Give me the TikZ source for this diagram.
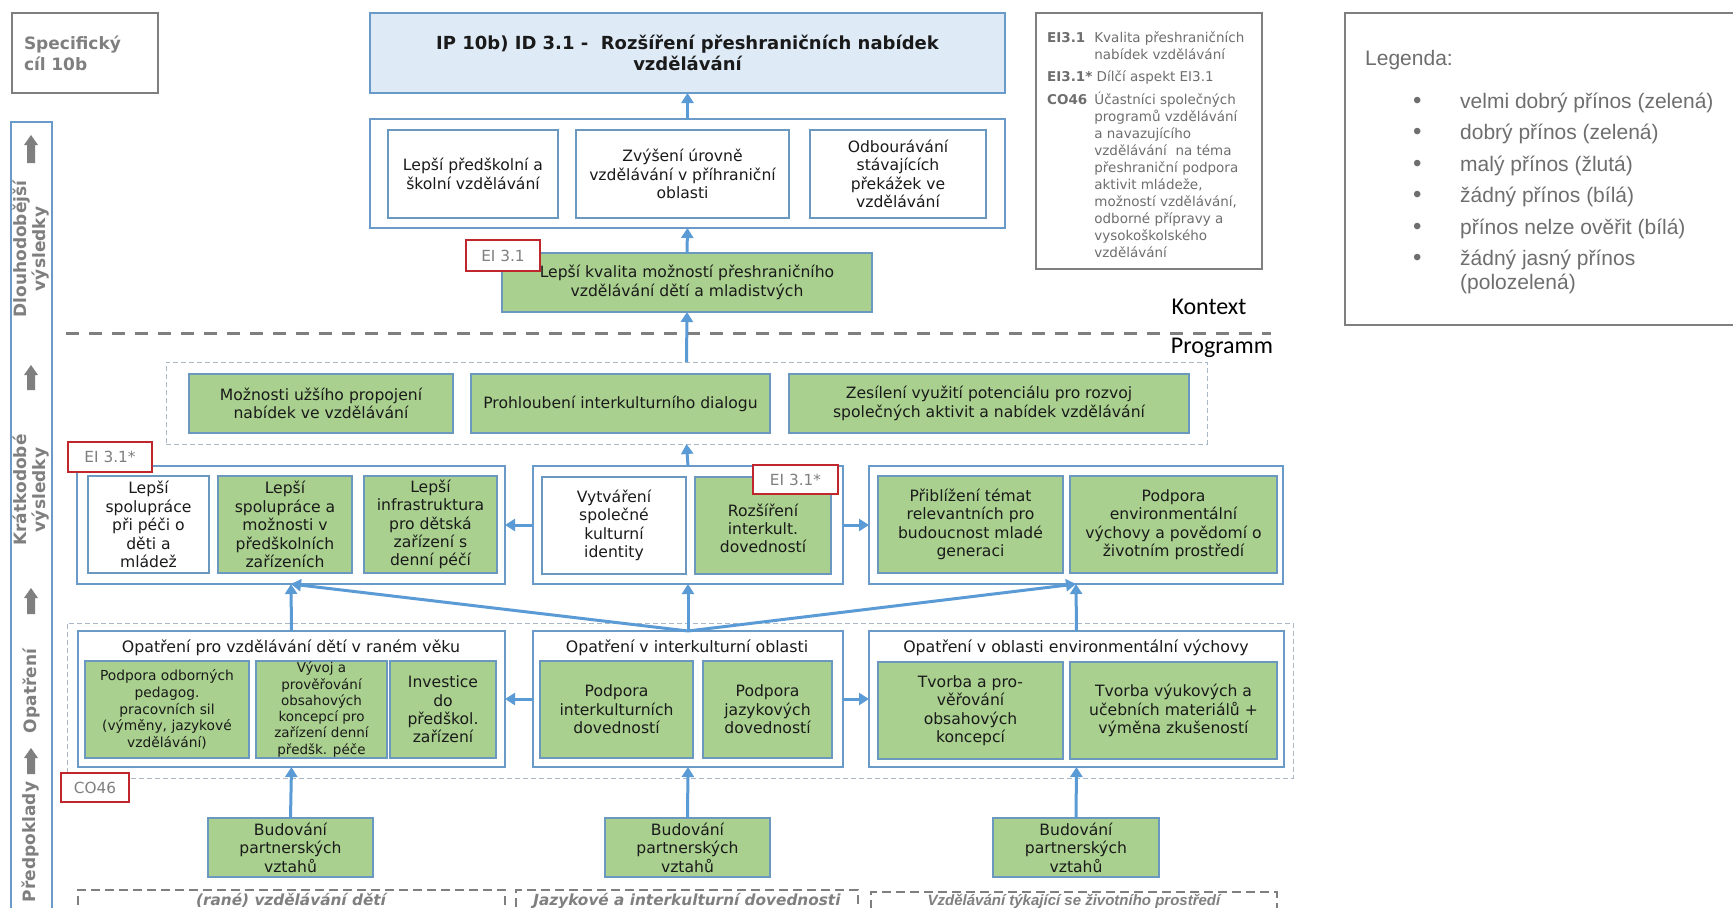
\documentclass[tikz,border=0pt]{standalone}
\usepackage{fontspec}
\setmainfont{DejaVu Sans}
\newfontfamily\arialf{Liberation Sans}
\newfontfamily\calf{Carlito}
\usetikzlibrary{arrows.meta}
\definecolor{fr}{HTML}{6A9AC8}
\definecolor{gf}{HTML}{A9D08E}
\definecolor{gb}{HTML}{6B98BF}
\definecolor{ab}{HTML}{5B9BD5}
\definecolor{lb}{HTML}{DEEBF7}
\definecolor{rd}{HTML}{C0272D}
\definecolor{gt}{HTML}{7F7F7F}
\definecolor{dl}{HTML}{A9B6C6}
\definecolor{tx}{HTML}{1A1A1A}
\definecolor{lg}{HTML}{6E6E6E}
\newcommand\fsz[2]{\fontsize{#1}{#2}\selectfont}
\newcommand\bx[7]{\node[#1,minimum width={(#4-#2)*1pt},minimum height={(#5-#3)*1pt}] (#6) at ({(#2+#4)/2},{(#3+#5)/2}) {#7};}
\newcommand\garrow[3]{\fill[gt] ({#1-4},{#3}) -- ({#1-4},{#2+10}) -- ({#1-7},{#2+10}) -- ({#1},{#2}) -- ({#1+7},{#2+10}) -- ({#1+4},{#2+10}) -- ({#1+4},{#3}) -- cycle;}
\tikzset{
 frame/.style={draw=fr, line width=1.8pt, fill=white, inner sep=0pt, outer sep=0pt},
 gbox/.style={draw=gb, line width=1.6pt, fill=gf, inner sep=0pt, outer sep=0pt, align=center, font=\fsz{15.6}{18.4}, text=tx},
 wbox/.style={gbox, fill=white},
 sbox/.style={gbox, font=\fsz{13.8}{16.6}},
 ipbox/.style={draw=fr, line width=1.8pt, fill=lb, inner sep=0pt, outer sep=0pt, align=center, font=\fsz{18}{21}\bfseries, text=tx},
 greybox/.style={draw=gt, line width=1.8pt, fill=white, inner sep=0pt, outer sep=0pt},
 redbox/.style={draw=rd, line width=1.8pt, fill=white, inner sep=0pt, outer sep=0pt, font=\fsz{15.3}{18}, text=gt},
 ldash/.style={draw=dl, line width=1pt, dash pattern=on 5pt off 3pt, inner sep=0pt, outer sep=0pt},
 bdash/.style={draw=gt, line width=2.2pt, dash pattern=on 9pt off 5pt, inner sep=0pt, outer sep=0pt},
 bdtext/.style={font=\fsz{15.3}{18}\bfseries\itshape, text=gt, inner sep=0pt, anchor=base},
 arr/.style={draw=ab, line width=3pt, -{Triangle[length=10pt,width=12pt]}},
 ttl/.style={font=\fsz{15.8}{18}, text=tx, inner sep=0pt},
 side/.style={rotate=90, font=\fsz{17}{19}\bfseries, text=gt, align=center, inner sep=0pt},
 kdash/.style={draw=gt, line width=3pt, dash pattern=on 13pt off 10pt},
 legtext/.style={font=\arialf\fsz{21}{24}, text=lg, inner sep=0pt, anchor=west, align=left},
}
\begin{document}
\begin{tikzpicture}[x=1pt,y=-1pt]
\useasboundingbox (0,0) rectangle (1733,908);
\clip (0,0) rectangle (1733,908);
\fill[white] (0,0) rectangle (1733,908);

% ---- left column
\bx{greybox, text width=122pt, align=left, font=\fsz{17}{21}\bfseries, text=gt}{12}{13}{158}{93}{spec}{Specifický\\cíl 10b}
\bx{frame, line width=1.6pt}{11}{122}{52}{940}{lcol}{}
\garrow{31}{135}{163}
\garrow{31}{365}{390}
\garrow{31}{588}{614}
\garrow{31}{748}{774}
\node[side] (sd1) at (31,249) {Dlouhodobější\\výsledky};
\node[side] (sd2) at (31,490) {Krátkodobé\\výsledky};
\node[side] (sd3) at (31,691) {Opatření};
\node[side] (sd4) at (31,842) {Předpoklady};

% ---- top
\bx{ipbox}{370}{13}{1005}{93}{ip}{IP 10b) ID 3.1 -\ \ Rozšíření přeshraničních nabídek\\vzdělávání}
\bx{frame}{370}{119}{1005}{228}{lt}{}
\bx{wbox}{388}{130}{558}{218}{l1}{Lepší předškolní a\\školní vzdělávání}
\bx{wbox}{576}{130}{789}{218}{l2}{Zvýšení úrovně\\vzdělávání v příhraniční\\oblasti}
\bx{wbox}{810}{130}{986}{218}{l3}{Odbourávání\\stávajících\\překážek ve\\vzdělávání}
\bx{gbox}{502}{253}{872}{312}{lk}{Lepší kvalita možností přeshraničního\\vzdělávání dětí a mladistvých}

% ---- EI legend
\bx{greybox, line width=1.6pt}{1036}{13}{1262}{269}{eibox}{}
\node[anchor=north west, inner sep=0pt, font=\fsz{13.5}{17.1}, text=lg] (eitxt) at (1047,30) {%
\renewcommand\arraystretch{1}%
\begin{tabular}{@{}l@{\hspace{7pt}}l@{}}
\textbf{EI3.1} & Kvalita přeshraničních\\
 & nabídek vzdělávání\\[5pt]
\multicolumn{2}{@{}l@{}}{\textbf{EI3.1*} Dílčí aspekt EI3.1}\\[5pt]
\textbf{CO46} & Účastníci společných\\
 & programů vzdělávání\\
 & a navazujícího\\
 & vzdělávání\ \ na téma\\
 & přeshraniční podpora\\
 & aktivit mládeže,\\
 & možností vzdělávání,\\
 & odborné přípravy a\\
 & vysokoškolského\\
 & vzdělávání
\end{tabular}};

% ---- colour legend
\bx{greybox, line width=1.6pt}{1345}{13}{1750}{325}{legbox}{}
\node[legtext] (legh) at (1365,60) {Legenda:};
\foreach \yy/\tt [count=\i] in {103/velmi dobrý přínos (zelená),134/dobrý přínos (zelená),166/malý přínos (žlutá),197/žádný přínos (bílá),229/přínos nelze ověřit (bílá),260/žádný jasný přínos}{
  \node[legtext, font=\arialf\fsz{24}{24}] (lb\i) at (1413,\yy) {•};
  \node[legtext] (lt\i) at (1460,\yy) {\tt};
}
\node[legtext] (lt7) at (1460,284) {(polozelená)};

% ---- context line
\node[font=\calf\fsz{24}{26}, text=black, inner sep=0pt] (kontext) at (1209,307) {Kontext};
\node[font=\calf\fsz{24}{26}, text=black, inner sep=0pt] (programm) at (1222,348) {Programm};
\draw[kdash] (66,333) -- (1271,333);

% ---- short-term container
\bx{ldash}{166}{362}{1207}{444}{stc}{}
\bx{gbox}{189}{374}{453}{433}{s1}{Možnosti užšího propojení\\nabídek ve vzdělávání}
\bx{gbox}{471}{374}{770}{433}{s2}{Prohloubení interkulturního dialogu}
\bx{gbox}{789}{374}{1189}{433}{s3}{Zesílení využití potenciálu pro rozvoj\\společných aktivit a nabídek vzdělávání}

% ---- short-term frames
\bx{frame}{77}{466}{505}{584}{sl}{}
\bx{wbox}{88}{476}{209}{573}{sl1}{Lepší\\spolupráce\\při péči o\\děti a\\mládež}
\bx{gbox}{218}{476}{352}{573}{sl2}{Lepší\\spolupráce a\\možnosti v\\předškolních\\zařízeních}
\bx{gbox}{364}{476}{497}{573}{sl3}{Lepší\\infrastruktura\\pro dětská\\zařízení s\\denní péčí}
\bx{frame}{533}{466}{843}{584}{sm}{}
\bx{wbox}{542}{477}{686}{574}{sm1}{Vytváření\\společné\\kulturní\\identity}
\bx{gbox}{695}{477}{831}{574}{sm2}{\\Rozšíření\\interkult.\\dovedností}
\bx{frame}{869}{466}{1283}{584}{sr}{}
\bx{gbox}{878}{476}{1063}{573}{sr1}{Přiblížení témat\\relevantních pro\\budoucnost mladé\\generaci}
\bx{gbox}{1070}{476}{1277}{573}{sr2}{Podpora\\environmentální\\výchovy a povědomí o\\životním prostředí}

% ---- measures container
\bx{ldash}{67}{623}{1293}{778}{mc}{}
\bx{frame}{78}{631}{505}{767}{ml}{}
\node[ttl] (mlt) at (291,648) {Opatření pro vzdělávání dětí v raném věku};
\bx{sbox}{85}{661}{249}{758}{ml1}{Podpora odborných\\pedagog.\\pracovních sil\\(výměny, jazykové\\vzdělávání)}
\bx{sbox, font=\fsz{13.5}{16.3}}{256}{661}{387}{758}{ml2}{Vývoj a\\prověřování\\obsahových\\koncepcí pro\\zařízení denní\\předšk. péče}
\bx{gbox}{390}{661}{496}{758}{ml3}{Investice\\do\\předškol.\\zařízení}
\bx{frame}{533}{631}{843}{767}{mm}{}
\node[ttl] (mmt) at (687,648) {Opatření v interkulturní oblasti};
\bx{gbox}{540}{661}{693}{758}{mm1}{Podpora\\interkulturních\\dovedností}
\bx{gbox}{703}{661}{832}{758}{mm2}{Podpora\\jazykových\\dovedností}
\bx{frame}{869}{631}{1284}{767}{mr}{}
\node[ttl] (mrt) at (1076,648) {Opatření v oblasti environmentální výchovy};
\bx{gbox}{878}{662}{1063}{759}{mr1}{Tvorba a pro-\\věřování\\obsahových\\koncepcí}
\bx{gbox}{1070}{662}{1277}{759}{mr2}{Tvorba výukových a\\učebních materiálů +\\výměna zkušeností}

% ---- prerequisites
\bx{gbox}{208}{818}{373}{877}{b1}{Budování\\partnerských\\vztahů}
\bx{gbox}{605}{818}{770}{877}{b2}{Budování\\partnerských\\vztahů}
\bx{gbox}{993}{818}{1159}{877}{b3}{Budování\\partnerských\\vztahů}

\bx{bdash}{78}{890}{505}{940}{bd1}{}
\bx{bdash}{516}{890}{858}{940}{bd2}{}
\bx{bdash}{871}{892}{1277}{940}{bd3}{}
\node[bdtext] (bd1t) at (291,905) {(rané) vzdělávání dětí};
\node[bdtext] (bd2t) at (687,905) {Jazykové a interkulturní dovednosti};
\node[bdtext, font=\arialf\fsz{15}{18}\bfseries\itshape] (bd3t) at (1074,905) {Vzdělávání týkající se životního prostředí};

% ---- arrows
\draw[arr] (lt.north) -- (ip.south);
\draw[arr] (lk.north) -- (lt.south);
\draw[arr] (stc.north) -- (lk.south);
\draw[arr] (sm.north) -- (stc.south);
\draw[arr] (mm.north) -- (sm.south);
\draw[arr] (mm.north) -- (sl.south);
\draw[arr] (mm.north) -- (sr.south);
\draw[arr] (ml.north) -- (sl.south);
\draw[arr] (mr.north) -- (sr.south);
\draw[arr] (sm.west |- 0,525) -- (sl.east |- 0,525);
\draw[arr] (sm.east |- 0,525) -- (sr.west |- 0,525);
\draw[arr] (mm.west |- 0,699) -- (ml.east |- 0,699);
\draw[arr] (mm.east |- 0,699) -- (mr.west |- 0,699);
\draw[arr] (b1.north) -- (ml.south);
\draw[arr] (b2.north) -- (mm.south);
\draw[arr] (b3.north) -- (mr.south);

% ---- red indicator boxes
\bx{redbox}{466}{240}{540}{271}{ei1}{EI 3.1}
\bx{redbox}{68}{442}{152}{472}{ei2}{EI 3.1*}
\bx{redbox}{753}{465}{838}{494}{ei3}{EI 3.1*}
\bx{redbox}{61}{773}{129}{802}{co}{CO46}
\end{tikzpicture}
\end{document}
